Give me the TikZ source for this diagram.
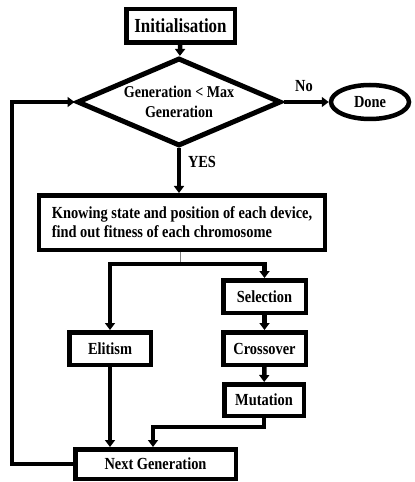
\documentclass[tikz,border=0pt]{standalone}
\usepackage{fontspec}
\setmainfont{Liberation Serif}[FakeStretch=0.85]
\usetikzlibrary{shapes.geometric,arrows.meta}
\begin{document}
\begin{tikzpicture}[x=1bp,y=-1bp,
  every node/.style={font=\bfseries\fontsize{17}{19}\selectfont},
  box/.style={draw, line width=4.5bp, inner sep=0pt, align=center},
  conn/.style={line width=4.5bp, -{Triangle[length=7bp,width=10bp]}},
  lbl/.style={inner sep=0pt}]
\useasboundingbox (0,0) rectangle (414,482);
\node[box, minimum width=108.5bp, minimum height=33.5bp, font=\bfseries\fontsize{20}{22}\selectfont] (init) at (180.5,26) {Initialisation};
\node[box, diamond, shape aspect=2.26, minimum width=204bp, minimum height=88bp, line width=5bp, font=\bfseries\fontsize{16.6}{20}\selectfont] (dia) at (179,102) {Generation < Max\\Generation};
\node[box, ellipse, minimum width=78bp, minimum height=34bp] (done) at (370,102) {Done};
\node[box, align=left, minimum width=285.5bp, minimum height=54.5bp] (know) at (182,222.5) {Knowing state and position of each device,\\find out fitness of each chromosome};
\node[box, minimum width=82.5bp, minimum height=32.5bp] (sel) at (264.5,296.5) {Selection};
\node[box, minimum width=82.5bp, minimum height=32.5bp] (cross) at (264.5,348.5) {Crossover};
\node[box, minimum width=79.5bp, minimum height=31.5bp] (mut) at (264,400) {Mutation};
\node[box, minimum width=81.5bp, minimum height=32.5bp] (elit) at (110,348.5) {Elitism};
\node[box, minimum width=160.5bp, minimum height=29.5bp] (next) at (155.5,464) {Next Generation};
\node[lbl] (no) at (304,86) {No};
\node[lbl] (yes) at (202,162) {YES};
\coordinate (br) at (180,264);
\coordinate (mj) at (153,427);
\coordinate (fb) at (12,0);
\draw[conn] (init) -- (dia);
\draw[conn] (dia.east) -- (done.west);
\draw[conn] (dia.south) -- (dia.south |- know.north);
\draw[gray, line width=0.8bp] (know.south -| br) -- (br);
\draw[conn] (br) -| (elit.north);
\draw[conn] (br) -| (sel.north);
\draw[conn] (sel) -- (cross);
\draw[conn] (cross) -- (mut);
\draw[conn] (elit.south) -- (elit.south |- next.north);
\draw[conn] (mut.south) |- (mj) -- (mj |- next.north);
\draw[conn] (next.west) -| (fb |- dia.west) -- (dia.west);
\end{tikzpicture}
\end{document}
